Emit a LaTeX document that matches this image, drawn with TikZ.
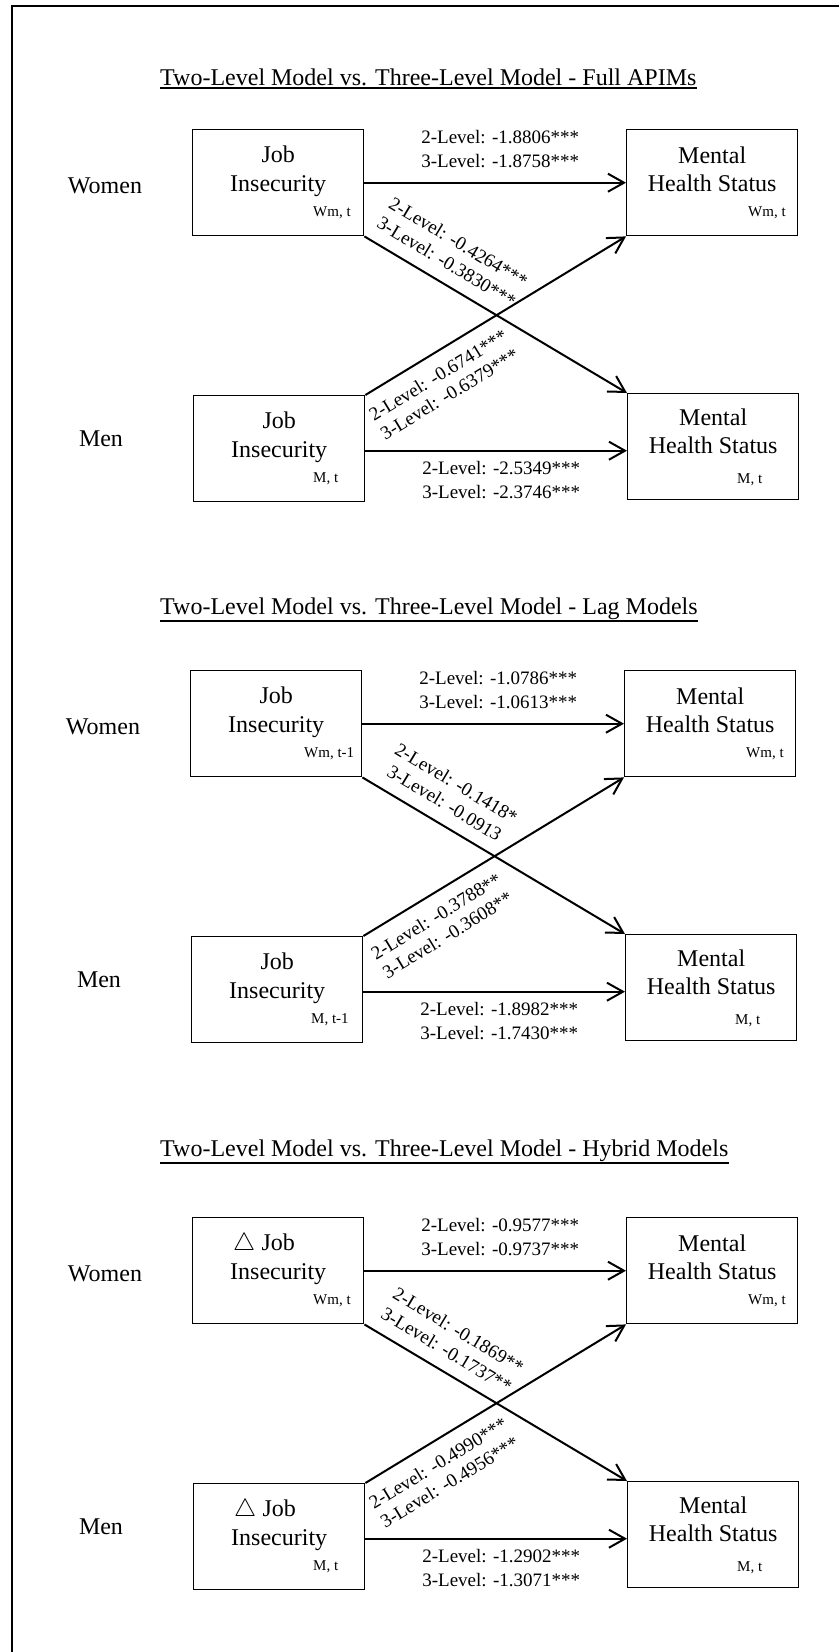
\documentclass[tikz,border=0pt]{standalone}
\usepackage{fontspec}
\setmainfont{Liberation Serif}
\usetikzlibrary{arrows.meta,calc}

\tikzset{
  unitbox/.style={draw, line width=1.4pt, minimum width=171pt, minimum height=106pt,
    inner sep=0pt, anchor=north west},
  boxtext/.style={font=\fontsize{24}{28}\selectfont, inner sep=0pt, anchor=base},
  subtext/.style={font=\fontsize{15}{18}\selectfont, inner sep=0pt, anchor=base west},
  sexlabel/.style={font=\fontsize{24}{28}\selectfont, inner sep=0pt, anchor=base},
  paneltitle/.style={font=\fontsize{24}{28}\selectfont, inner sep=0pt, anchor=base west},
  coeftext/.style={font=\fontsize{19}{23}\selectfont, inner sep=0pt, anchor=base},
  effect/.style={line width=2pt, -{Straight Barb[length=16pt,width=18pt]}},
  frameline/.style={line width=1.2pt}
}

\newcommand\pickA[2]{#1}
\newcommand\pickB[2]{#2}

% #1 id, #2 time index of job insecurity, #3 prefix before "Job",
% #4 women actor effect, #5 women->men partner effect,
% #6 men->women partner effect, #7 men actor effect,
% #8 left offset of the women's time index
\newcommand\apimpanel[8]{%
  \node[unitbox] (jw#1) at (192,0) {};
  \node[unitbox] (mw#1) at (626,0) {};
  \node[unitbox] (jm#1) at (193,266) {};
  \node[unitbox] (mm#1) at (627,264) {};
  \node[sexlabel] (sw#1) at (105,64) {Women};
  \node[sexlabel] (sm#1) at (101,317) {Men};
  % job insecurity, women
  \node[boxtext] (jwa#1) at ([yshift=-33pt]jw#1.north) {Job};
  \node[boxtext, anchor=base east] at ([xshift=-6pt]jwa#1.base west) {#3};
  \node[boxtext] at ([yshift=-62pt]jw#1.north) {Insecurity};
  \node[subtext] at ([xshift=#8,yshift=-87pt]jw#1.north west) {Wm, #2};
  % job insecurity, men
  \node[boxtext] (jma#1) at ([yshift=-33pt]jm#1.north) {Job};
  \node[boxtext, anchor=base east] at ([xshift=-6pt]jma#1.base west) {#3};
  \node[boxtext] at ([yshift=-62pt]jm#1.north) {Insecurity};
  \node[subtext] at ([xshift=120pt,yshift=-87pt]jm#1.north west) {M, #2};
  % mental health, women
  \node[boxtext] at ([yshift=-34pt]mw#1.north) {Mental};
  \node[boxtext] at ([yshift=-62pt]mw#1.north) {Health Status};
  \node[subtext] at ([xshift=122pt,yshift=-87pt]mw#1.north west) {Wm, t};
  % mental health, men
  \node[boxtext] at ([yshift=-32pt]mm#1.north) {Mental};
  \node[boxtext] at ([yshift=-60pt]mm#1.north) {Health Status};
  \node[subtext] at ([xshift=110pt,yshift=-90pt]mm#1.north west) {M, t};
  % actor effects
  \draw[effect] (jw#1.east) -- (jw#1.east -| mw#1.west)
    coordinate[midway] (tm#1);
  \draw[effect] ([yshift=-2pt]jm#1.east) -- ([yshift=-2pt]jm#1.east -| mm#1.west)
    coordinate[midway] (bm#1);
  \node[coeftext] at ([xshift=5pt,yshift=39pt]tm#1) {\pickA#4};
  \node[coeftext] at ([xshift=5pt,yshift=15pt]tm#1) {\pickB#4};
  \node[coeftext] at ([xshift=5pt,yshift=-24pt]bm#1) {\pickA#7};
  \node[coeftext] at ([xshift=5pt,yshift=-48pt]bm#1) {\pickB#7};
  % partner effects
  \draw[effect] (jw#1.south east) -- (mm#1.north west);
  \draw[effect] (jm#1.north east) -- (mw#1.south west);
  \coordinate (df#1) at ($(jw#1.south east)!0.274!(mm#1.north west)$);
  \coordinate (rf#1) at ($(jm#1.north east)!0.237!(mw#1.south west)$);
  \node[coeftext, rotate=-31] at ($(df#1)!36.7pt!90:(mm#1.north west)$) {\pickA#5};
  \node[coeftext, rotate=-31] at ($(df#1)!13.7pt!90:(mm#1.north west)$) {\pickB#5};
  \node[coeftext, rotate=31.4] at ($(rf#1)!27.3pt!-90:(mw#1.south west)$) {\pickA#6};
  \node[coeftext, rotate=31.4] at ($(rf#1)!49.3pt!-90:(mw#1.south west)$) {\pickB#6};
}

\begin{document}
\begin{tikzpicture}[x=1pt,y=-1pt]
\useasboundingbox (0,0) rectangle (839,1652);
\draw[frameline] (839,6) -- (12,6) -- (12,1652);

% titles
\node[paneltitle] (h1) at (160,85) {Two-Level Model vs. Three-Level Model - Full APIMs};
\draw[frameline] ([yshift=-3pt]h1.base west) -- ([yshift=-3pt]h1.base east);
\node[paneltitle] (h2) at (160,614) {Two-Level Model vs. Three-Level Model - Lag Models};
\draw[frameline] ([yshift=-7pt]h2.base west) -- ([yshift=-7pt]h2.base east);
\node[paneltitle] (h3) at (160,1156) {Two-Level Model vs. Three-Level Model - Hybrid Models};
\draw[frameline] ([yshift=-7pt]h3.base west) -- ([yshift=-7pt]h3.base east);

\begin{scope}[shift={(0,129)}]
\apimpanel{a}{t}{}
  {{2-Level: -1.8806***}{3-Level: -1.8758***}}
  {{2-Level: -0.4264***}{3-Level: -0.3830***}}
  {{2-Level: -0.6741***}{3-Level: -0.6379***}}
  {{2-Level: -2.5349***}{3-Level: -2.3746***}}
  {121pt}
\end{scope}

\begin{scope}[shift={(-2,670)}]
\apimpanel{b}{t-1}{}
  {{2-Level: -1.0786***}{3-Level: -1.0613***}}
  {{2-Level: -0.1418*}{3-Level: -0.0913}}
  {{2-Level: -0.3788**}{3-Level: -0.3608**}}
  {{2-Level: -1.8982***}{3-Level: -1.7430***}}
  {114pt}
\end{scope}

\begin{scope}[shift={(0,1217)}]
\apimpanel{c}{t}{$\triangle$}
  {{2-Level: -0.9577***}{3-Level: -0.9737***}}
  {{2-Level: -0.1869**}{3-Level: -0.1737**}}
  {{2-Level: -0.4990***}{3-Level: -0.4956***}}
  {{2-Level: -1.2902***}{3-Level: -1.3071***}}
  {121pt}
\end{scope}
\end{tikzpicture}
\end{document}
